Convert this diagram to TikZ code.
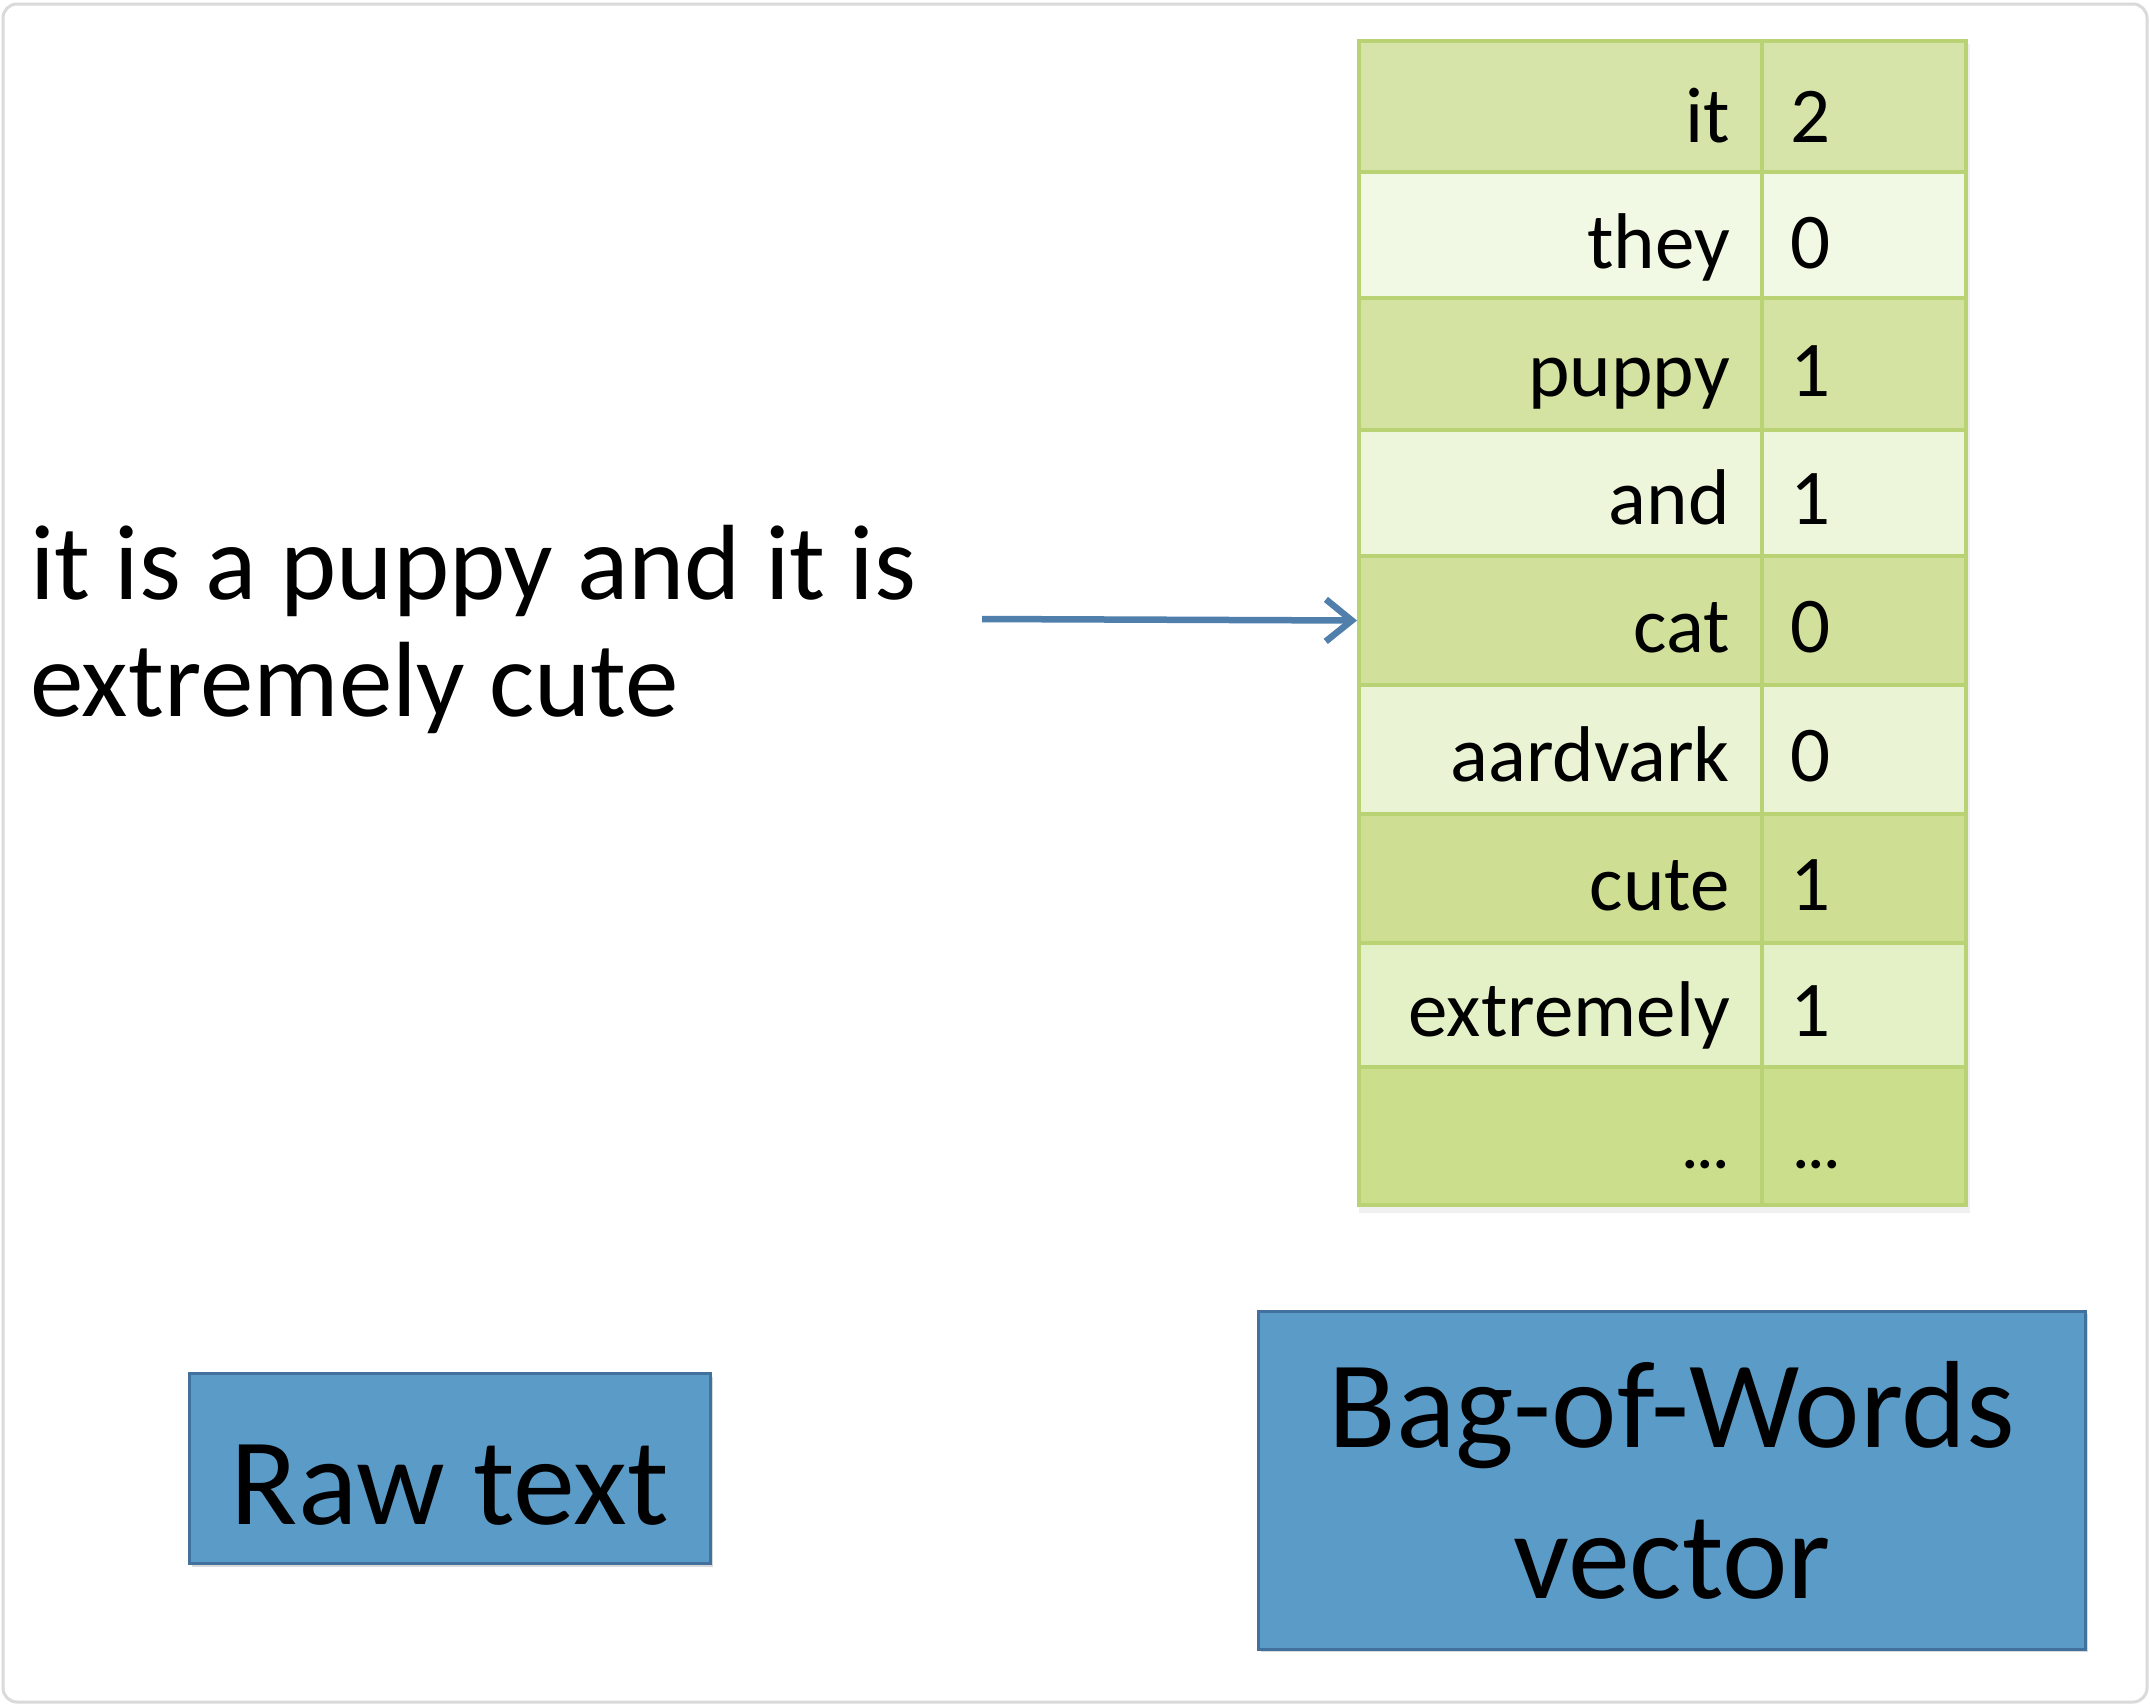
\documentclass[tikz,border=0pt]{standalone}
\usepackage{fontspec}
\setmainfont{Carlito}
\usetikzlibrary{arrows.meta}
\definecolor{frameg}{HTML}{DADADA}
\definecolor{gridg}{HTML}{B8D274}
\definecolor{rA}{HTML}{D7E4A9}
\definecolor{rB}{HTML}{F1F8E3}
\definecolor{rC}{HTML}{D4E2A2}
\definecolor{rD}{HTML}{EDF6DA}
\definecolor{rE}{HTML}{D1E09B}
\definecolor{rF}{HTML}{EAF4D4}
\definecolor{rG}{HTML}{CEDF94}
\definecolor{rH}{HTML}{E4F1C6}
\definecolor{rI}{HTML}{CBDE8C}
\definecolor{boxblue}{HTML}{5B9BC7}
\definecolor{boxedge}{HTML}{41719C}
\definecolor{arrowblue}{HTML}{4F7FAA}
\tikzset{
  x=1pt, y=-1pt,
  cellbox/.style={draw=gridg, line width=4pt, inner sep=0pt, anchor=north west},
  wordtxt/.style={inner sep=0pt, anchor=base east, font=\fontsize{79}{95}\selectfont},
  numtxt/.style={inner sep=0pt, anchor=base west, font=\fontsize{79}{95}\selectfont},
  dotstxt/.style={inner sep=0pt, font=\fontsize{58}{70}\selectfont\bfseries},
  maintxt/.style={inner sep=0pt, anchor=base west, font=\fontsize{107}{117}\selectfont},
  bluebox/.style={fill=boxblue, draw=boxedge, line width=3pt, inner sep=0pt, align=center,
     font=\fontsize{124}{151}\selectfont},
  conn/.style={draw=arrowblue, line width=6.5pt, -{Straight Barb[length=26pt, width=42pt, line width=6.5pt]}}
}
\begin{document}
\begin{tikzpicture}
\useasboundingbox (0,0) rectangle (2150,1706);
\fill[white] (0,0) rectangle (2150,1706);
\draw[frameg, line width=3pt, rounded corners=14pt] (3,4) rectangle (2147,1702);

% table shadow
\fill[black!12] (1361,46) rectangle (1968,1210);
\fill[black!6] (1359,44) rectangle (1970,1213);

% rows
\foreach \i/\t/\b/\c in {
  1/39/170/rA,
  2/170/296/rB,
  3/296/428/rC,
  4/428/554/rD,
  5/554/683/rE,
  6/683/812/rF,
  7/812/941/rG,
  8/941/1065/rH,
  9/1065/1203/rI}{
  \pgfmathsetmacro{\h}{\b-\t}
  \node[cellbox, fill=\c, minimum width=403pt, minimum height=\h pt] (w\i) at (1357,\t) {};
  \node[cellbox, fill=\c, minimum width=204pt, minimum height=\h pt] (v\i) at (1760,\t) {};
}
% labels
\node[wordtxt] (l1) at (1730,142) {it};
\node[numtxt]  (n1) at (1790,142) {2};
\node[wordtxt] (l2) at (1730,268) {they};
\node[numtxt]  (n2) at (1790,268) {0};
\node[wordtxt] (l3) at (1730,396) {puppy};
\node[numtxt]  (n3) at (1790,396) {1};
\node[wordtxt] (l4) at (1730,524) {and};
\node[numtxt]  (n4) at (1790,524) {1};
\node[wordtxt] (l5) at (1730,652) {cat};
\node[numtxt]  (n5) at (1790,652) {0};
\node[wordtxt] (l6) at (1730,781) {aardvark};
\node[numtxt]  (n6) at (1790,781) {0};
\node[wordtxt] (l7) at (1730,910) {cute};
\node[numtxt]  (n7) at (1790,910) {1};
\node[wordtxt] (l8) at (1730,1036) {extremely};
\node[numtxt]  (n8) at (1790,1036) {1};
\node[dotstxt, anchor=base east] (l9) at (1729,1168) {...};
\node[dotstxt, anchor=base west] (n9) at (1793,1168) {...};

% raw sentence
\node[maintxt] (s1) at (30,599) {it is a puppy and it is};
\node[maintxt] (s2) at (30,716) {extremely cute};

\coordinate (astart) at (982,619);
\draw[conn] (astart) -- (w5.west);

% bottom boxes
\fill[black!15] (192,1377) rectangle (713,1567);
\node[bluebox, minimum width=521pt, minimum height=190pt, anchor=north west,
      text height=112pt, text depth=0pt] (raw) at (188,1372) {Raw text};
\fill[black!15] (1261,1314) rectangle (2088,1652);
\node[bluebox, minimum width=827pt, minimum height=338pt, anchor=north west] (bow) at (1257,1310) {Bag-of-Words\\vector};
\end{tikzpicture}
\end{document}
